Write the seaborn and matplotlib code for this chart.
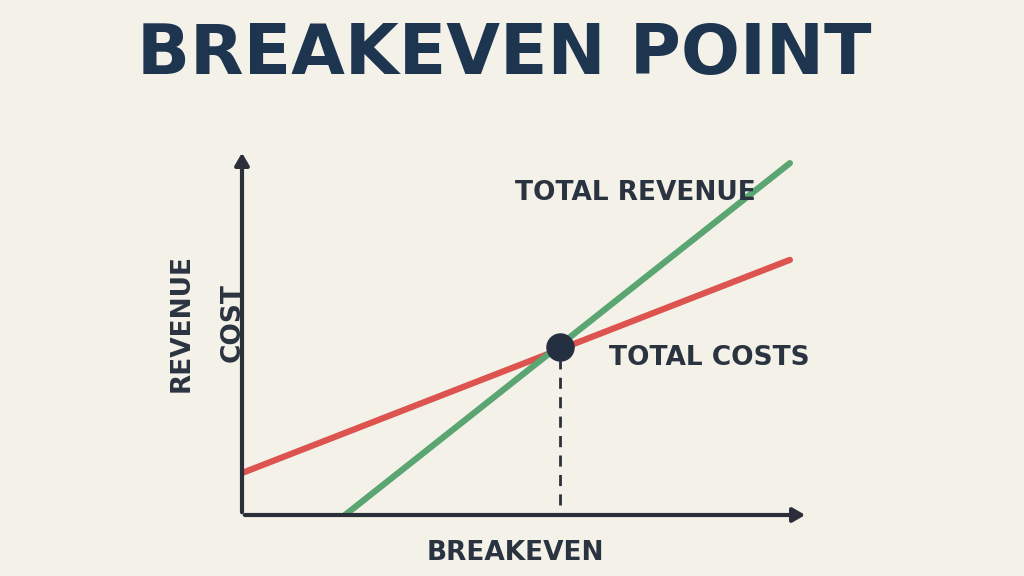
import matplotlib
matplotlib.use("Agg")
import matplotlib.pyplot as plt
import seaborn as sns
import pandas as pd

sns.set_theme(style="white")
plt.rcParams['font.family'] = ['DejaVu Sans']

qty = [0.0, 9.68]
total_costs = [1.15, 6.99]
rev_qty = [1.82, 9.68]
total_revenue = [0.0, 9.64]
be_x, be_y = 5.62, 4.6

bg = "#f4f1e8"
navy = "#1e3550"
fig = plt.figure(figsize=(10.24, 5.76), dpi=100, facecolor=bg)
ax = fig.add_axes([242/1024, 61/576, 566/1024, 365/576])
ax.set_facecolor(bg)
ax.set_xlim(0, 10); ax.set_ylim(0, 10)
for s in ax.spines.values():
    s.set_visible(False)
ax.set_xticks([]); ax.set_yticks([])

df_c = pd.DataFrame({"q": qty, "v": total_costs})
df_r = pd.DataFrame({"q": rev_qty, "v": total_revenue})
sns.lineplot(data=df_c, x="q", y="v", ax=ax, color="#dc5350", lw=4.5)
sns.lineplot(data=df_r, x="q", y="v", ax=ax, color="#5aa572", lw=4.5)
ax.set_xlabel(""); ax.set_ylabel("")
ax.plot([be_x, be_x], [0.28, be_y], ls=(0, (4, 3)), color="#2a2f3a", lw=2)
ax.scatter([be_x], [be_y], s=380, color="#243042", zorder=5)

kw = dict(arrowstyle="-|>,head_length=0.6,head_width=0.35", color="#2a2f3a", lw=3)
ax.annotate("", xy=(0, 10), xytext=(0, 0), arrowprops=kw, annotation_clip=False)
ax.annotate("", xy=(10, 0), xytext=(0, 0), arrowprops=kw, annotation_clip=False)

fig.text(0.492, 0.905, "BREAKEVEN POINT", ha="center", va="center",
         fontsize=50, fontweight="bold", color=navy)
fig.text(0.620, 0.665, "TOTAL REVENUE", ha="center", va="center",
         fontsize=19, fontweight="bold", color="#2a3340")
fig.text(0.693, 0.378, "TOTAL COSTS", ha="center", va="center",
         fontsize=19, fontweight="bold", color="#2a3340")
fig.text(0.177, 0.44, "REVENUE", ha="center", va="center", rotation=90,
         fontsize=19, fontweight="bold", color="#2a3340")
fig.text(0.227, 0.44, "COST", ha="center", va="center", rotation=90,
         fontsize=19, fontweight="bold", color="#2a3340")
fig.text(0.503, 0.04, "BREAKEVEN", ha="center", va="center",
         fontsize=19, fontweight="bold", color="#2a3340")
fig.savefig("out.png", dpi=100, facecolor=bg)
